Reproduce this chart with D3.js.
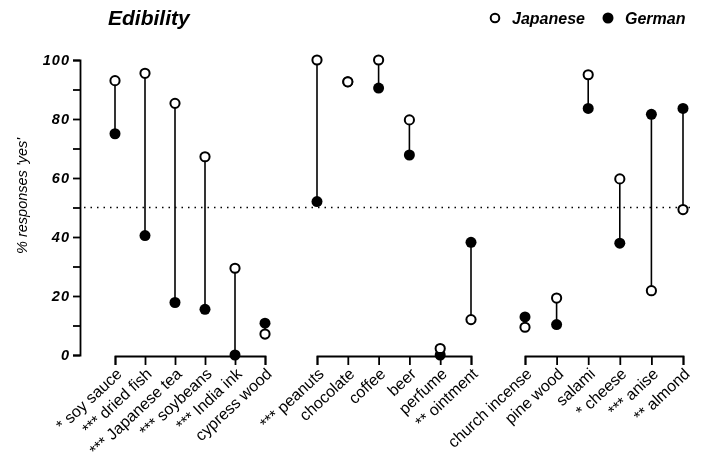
<!DOCTYPE html>
<html>
<head>
<meta charset="utf-8">
<script src="https://cdn.jsdelivr.net/npm/d3@7"></script>
<style>
  body { margin: 0; background: #fff; }
  svg { display: block; will-change: transform; }
  text { font-family: "Liberation Sans", Arial, sans-serif; fill: #000; }
</style>
</head>
<body>
<div id="chart"></div>
<script>
// data: three groups of items, % "yes" for Japanese and German respondents
var group1 = ["* soy sauce", "*** dried fish", "*** Japanese tea", "*** soybeans", "*** India ink", "cypress wood"];
var group2 = ["*** peanuts", "chocolate", "coffee", "beer", "perfume", "** ointment"];
var group3 = ["church incense", "pine wood", "salami", "* cheese", "*** anise", "** almond"];

var japanese1 = [93, 95.5, 85.3, 67.2, 29.4, 7.1];
var german1   = [75, 40.5, 17.8, 15.5, 0, 10.8];
var japanese2 = [100, 92.6, 100, 79.7, 2.2, 12];
var german2   = [52, 92.6, 90.5, 67.8, 0, 38.2];
var japanese3 = [9.4, 19.3, 95, 59.7, 21.8, 49.3];
var german3   = [12.9, 10.3, 83.6, 37.9, 81.6, 83.6];

var yTicks = [0, 10, 20, 30, 40, 50, 60, 70, 80, 90, 100];

var width = 704, height = 459;

var svg = d3.select("#chart")
  .append("svg")
    .attr("width", width)
    .attr("height", height);

// y scale
var y = d3.scaleLinear()
  .domain([0, 100])
  .range([355, 60]);

// y axis
var yAxis = svg.append("g")
  .attr("transform", "translate(80,0)")
  .call(d3.axisLeft(y)
    .tickValues(yTicks)
    .tickSize(7)
    .tickPadding(3)
    .tickFormat(function(d) { return d % 20 === 0 ? d : ""; }));
yAxis.selectAll("path, line").attr("stroke", "#000").attr("stroke-width", 1.8);
yAxis.selectAll("text")
  .style("font-size", "14.5px")
  .style("font-style", "italic")
  .style("font-weight", "bold")
  .style("letter-spacing", "1px");

// y axis label
svg.append("text")
  .attr("transform", "translate(27,196) rotate(-90)")
  .attr("text-anchor", "middle")
  .style("font-size", "14.5px")
  .style("font-style", "italic")
  .text("% responses 'yes'");

// 50% reference line
svg.append("line")
  .attr("x1", 84)
  .attr("x2", 690)
  .attr("y1", y(50))
  .attr("y2", y(50))
  .attr("stroke", "#000")
  .attr("stroke-width", 1.5)
  .attr("stroke-dasharray", "1.5,5");

// groups, one x scale and axis each
var groups = [
  {names: group1, jp: japanese1, de: german1, range: [115, 265]},
  {names: group2, jp: japanese2, de: german2, range: [317, 471]},
  {names: group3, jp: japanese3, de: german3, range: [525, 683]}
];

groups.forEach(function(g) {
  var x = d3.scalePoint()
    .domain(g.names)
    .range(g.range);

  var ax = svg.append("g")
    .attr("transform", "translate(0,356)")
    .call(d3.axisBottom(x).tickSize(9));
  ax.selectAll("path, line").attr("stroke", "#000").attr("stroke-width", 1.8);
  ax.selectAll("text").remove();

  // rotated category labels
  svg.append("g")
    .selectAll("text")
    .data(g.names)
    .enter()
    .append("text")
      .attr("transform", function(d) { return "translate(" + (x(d) + 4) + ",371) rotate(-43)"; })
      .attr("text-anchor", "end")
      .attr("dy", "0.35em")
      .style("font-size", "16px")
      .text(function(d) { return d; });

  var rows = g.names.map(function(d, i) { return {name: d, jp: g.jp[i], de: g.de[i]}; });

  // connecting lines
  svg.append("g")
    .selectAll("line")
    .data(rows)
    .enter()
    .append("line")
      .attr("x1", function(d) { return x(d.name); })
      .attr("x2", function(d) { return x(d.name); })
      .attr("y1", function(d) { return y(d.jp); })
      .attr("y2", function(d) { return y(d.de); })
      .attr("stroke", "#000")
      .attr("stroke-width", 1.6);

  // German (filled)
  svg.append("g")
    .selectAll("circle")
    .data(rows)
    .enter()
    .append("circle")
      .attr("cx", function(d) { return x(d.name); })
      .attr("cy", function(d) { return y(d.de); })
      .attr("r", 5.5)
      .attr("fill", "#000");

  // Japanese (open)
  svg.append("g")
    .selectAll("circle")
    .data(rows)
    .enter()
    .append("circle")
      .attr("cx", function(d) { return x(d.name); })
      .attr("cy", function(d) { return y(d.jp); })
      .attr("r", 4.6)
      .attr("fill", "#fff")
      .attr("stroke", "#000")
      .attr("stroke-width", 2);
});

// title
svg.append("text")
  .attr("x", 108)
  .attr("y", 25)
  .style("font-size", "21px")
  .style("font-weight", "bold")
  .style("font-style", "italic")
  .text("Edibility");

// legend
svg.append("circle")
  .attr("cx", 495).attr("cy", 18).attr("r", 4.3)
  .attr("fill", "#fff").attr("stroke", "#000").attr("stroke-width", 2);
svg.append("text")
  .attr("x", 512).attr("y", 24)
  .style("font-size", "16px")
  .style("font-style", "italic")
  .style("font-weight", "bold")
  .text("Japanese");
svg.append("circle")
  .attr("cx", 608).attr("cy", 18).attr("r", 5.5)
  .attr("fill", "#000");
svg.append("text")
  .attr("x", 625).attr("y", 24)
  .style("font-size", "16px")
  .style("font-style", "italic")
  .style("font-weight", "bold")
  .text("German");
</script>
</body>
</html>
